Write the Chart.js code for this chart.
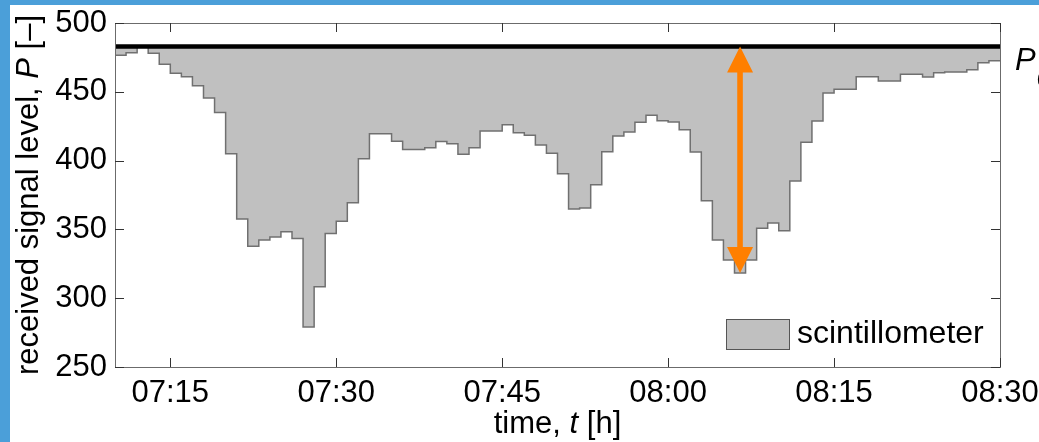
<!DOCTYPE html>
<html>
<head>
<meta charset="utf-8">
<script src="https://cdn.jsdelivr.net/npm/chart.js@4"></script>
<style>
  html, body { margin: 0; padding: 0; background: #4b9fd9; width: 1039px; height: 442px; overflow: hidden; }
  #chart { position: absolute; left: 10px; top: 5px; background: #fff; }
</style>
</head>
<body>
<canvas id="chart" width="1029" height="437"></canvas>
<script>
// signal level, one value per minute starting 07:10
const startMinute = 7 * 60 + 10
const endMinute = 8 * 60 + 30
const signal = [
    476.5, 478.4, 482.5, 478.0, 470.0, 463.4, 461.0, 454.4, 445.5, 435.0,
    405.0, 357.6, 337.7, 342.3, 344.5, 348.3, 343.3, 279.0, 308.4, 347.0,
    356.0, 369.4, 401.4, 419.6, 419.6, 414.0, 408.0, 408.0, 409.4, 413.8,
    412.3, 404.6, 409.4, 421.5, 421.5, 426.0, 420.3, 418.4, 411.3, 405.3,
    390.5, 364.8, 365.6, 382.5, 406.5, 417.9, 420.8, 427.8, 432.9, 429.0,
    428.0, 422.5, 406.3, 370.9, 342.3, 327.8, 318.3, 327.8, 350.8, 354.7,
    349.0, 385.2, 413.3, 428.8, 449.1, 451.8, 451.8, 461.0, 461.0, 457.8,
    457.8, 462.7, 462.7, 460.8, 463.9, 464.4, 464.4, 466.0, 471.2, 472.6
]
const p0Level = 483
// arrow marks the dip at 08:06
const arrowIndex = 56

const tickTimes = [435, 450, 465, 480, 495, 510]
const tickLabels = ['07:15', '07:30', '07:45', '08:00', '08:15', '08:30']
const yTicks = [250, 300, 350, 400, 450, 500]

const FONT = 'Liberation Sans, Arial, sans-serif'
const FS = 31

// each step holds until the next minute, last one closes at 08:30
const signalPoints = signal.map((v, i) => ({ x: startMinute + i, y: v }))
signalPoints.push({ x: endMinute, y: signal[signal.length - 1] })

function drawMixed(ctx, parts, cx, y) {
    // parts: [text, italic]
    let widths = parts.map(p => {
        ctx.font = (p[1] ? 'italic ' : '') + FS + 'px ' + FONT
        return ctx.measureText(p[0]).width
    })
    let total = widths.reduce((a, b) => a + b, 0)
    let x = cx - total / 2
    parts.forEach((p, i) => {
        ctx.font = (p[1] ? 'italic ' : '') + FS + 'px ' + FONT
        ctx.fillText(p[0], x, y)
        x += widths[i]
    })
}

const decorations = {
    id: 'decorations',
    afterDatasetsDraw(chart) {
        const ctx = chart.ctx
        const ca = chart.chartArea
        const xs = chart.scales.x
        const ys = chart.scales.y
        ctx.save()

        // orange double arrow from P0 down to the dip
        const ax = xs.getPixelForValue(startMinute + arrowIndex + 0.5)
        const aTop = ys.getPixelForValue(p0Level)
        const aBot = ys.getPixelForValue(signal[arrowIndex])
        const head = 26, half = 13
        ctx.fillStyle = '#ff7f00'
        ctx.fillRect(ax - 2.8, aTop + head - 1, 5.6, aBot - aTop - 2 * head + 2)
        ctx.beginPath()
        ctx.moveTo(ax, aTop); ctx.lineTo(ax - half, aTop + head); ctx.lineTo(ax + half, aTop + head)
        ctx.closePath(); ctx.fill()
        ctx.beginPath()
        ctx.moveTo(ax, aBot); ctx.lineTo(ax - half, aBot - head); ctx.lineTo(ax + half, aBot - head)
        ctx.closePath(); ctx.fill()

        // frame
        ctx.strokeStyle = '#6b6b6b'
        ctx.lineWidth = 1
        ctx.strokeRect(Math.round(ca.left) + 0.5, Math.round(ca.top) + 0.5,
            Math.round(ca.right - ca.left), Math.round(ca.bottom - ca.top))

        // inward ticks on all four sides
        ctx.strokeStyle = '#333'
        ctx.beginPath()
        tickTimes.forEach(t => {
            const px = Math.round(xs.getPixelForValue(t)) + 0.5
            ctx.moveTo(px, ca.bottom); ctx.lineTo(px, ca.bottom - 9)
            ctx.moveTo(px, ca.top); ctx.lineTo(px, ca.top + 9)
        })
        yTicks.forEach(v => {
            const py = Math.round(ys.getPixelForValue(v)) + 0.5
            ctx.moveTo(ca.left, py); ctx.lineTo(ca.left + 9, py)
            ctx.moveTo(ca.right, py); ctx.lineTo(ca.right - 9, py)
        })
        ctx.stroke()

        // legend
        const lx = ca.right - 274, ly = ca.bottom - 48
        ctx.fillStyle = '#c0c0c0'
        ctx.fillRect(lx, ly, 63, 30)
        ctx.strokeStyle = '#555'
        ctx.strokeRect(lx + 0.5, ly + 0.5, 63, 30)
        ctx.fillStyle = '#000'
        ctx.font = '32px ' + FONT
        ctx.textBaseline = 'middle'
        ctx.textAlign = 'left'
        ctx.fillText('scintillometer', lx + 71, ly + 15)

        // P0 label right of the frame
        ctx.textBaseline = 'alphabetic'
        ctx.font = 'italic ' + FS + 'px ' + FONT
        ctx.fillText('P', ca.right + 15, aTop + 23.5)
        ctx.font = '22px ' + FONT
        ctx.fillText('0', ca.right + 37, aTop + 41)

        // axis titles
        drawMixed(ctx, [['time, ', false], ['t', true], [' [h]', false]], (ca.left + ca.right) / 2, 428)
        ctx.translate(28, (ca.top + ca.bottom) / 2)
        ctx.rotate(-Math.PI / 2)
        drawMixed(ctx, [['received signal level, ', false], ['P', true], [' [\u2013]', false]], 0, 0)

        ctx.restore()
    }
}

const chart = new Chart(document.getElementById('chart').getContext('2d'), {
    type: 'line',
    data: {
        datasets: [{
            label: 'P0',
            data: [{ x: startMinute, y: p0Level }, { x: endMinute, y: p0Level }],
            borderColor: '#000',
            borderWidth: 4.5,
            pointRadius: 0,
            fill: false,
            order: 0
        }, {
            label: 'scintillometer',
            data: signalPoints,
            stepped: true,
            borderColor: '#707070',
            borderWidth: 1.5,
            backgroundColor: '#c0c0c0',
            fill: 0,
            pointRadius: 0,
            order: 1
        }]
    },
    options: {
        responsive: false,
        animation: false,
        layout: { padding: { left: 0, top: 18, right: 39, bottom: 0 } },
        plugins: { legend: { display: false }, tooltip: { enabled: false } },
        scales: {
            x: {
                type: 'linear',
                min: startMinute,
                max: endMinute,
                grid: { display: false, drawTicks: false },
                border: { display: false },
                afterBuildTicks: s => { s.ticks = tickTimes.map(v => ({ value: v })) },
                afterFit: s => { s.height = 75; s.paddingLeft = 0; s.paddingRight = 0 },
                ticks: {
                    padding: 8,
                    maxRotation: 0,
                    autoSkip: false,
                    color: '#000',
                    font: { family: FONT, size: FS },
                    callback: (v, i) => tickLabels[i]
                }
            },
            y: {
                min: 250,
                max: 500,
                grid: { display: false, drawTicks: false },
                border: { display: false },
                afterFit: s => { s.width = 105; s.paddingTop = 0; s.paddingBottom = 0 },
                ticks: {
                    stepSize: 50,
                    padding: 8,
                    color: '#000',
                    font: { family: FONT, size: FS }
                }
            }
        }
    },
    plugins: [decorations]
})
</script>
</body>
</html>
